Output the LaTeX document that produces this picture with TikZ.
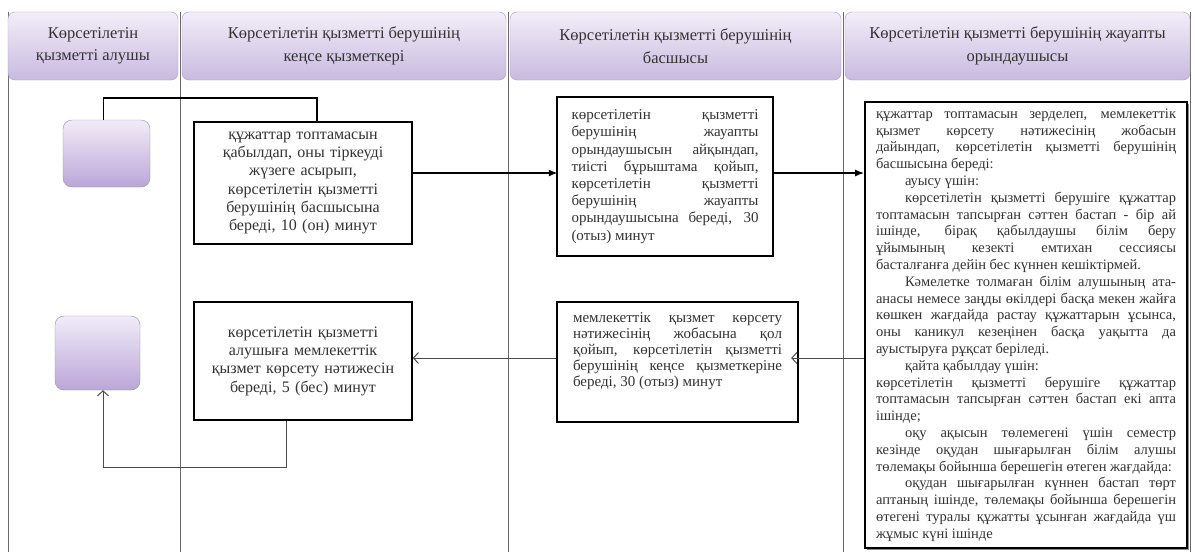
\documentclass[tikz,border=0pt]{standalone}
\usepackage{fontspec}
\setmainfont{Liberation Serif}
\usepackage{xcolor}
\usepackage{tikz}
\usetikzlibrary{arrows.meta,positioning,shadows}
\tikzset{>=Latex}
\definecolor{headtop}{HTML}{F2EEF8}
\definecolor{headbottom}{HTML}{C9BAE0}
\definecolor{headborder}{HTML}{A99FBD}
\definecolor{termtop}{HTML}{F1ECF8}
\definecolor{termbottom}{HTML}{BBA6D8}
\definecolor{termborder}{HTML}{978AB3}
\definecolor{laneline}{HTML}{6B6B6B}

\begin{document}
\begin{tikzpicture}[x=1pt, y=-1pt,
headbox/.style={rectangle, rounded corners=7pt, draw=headborder, top color=headtop, bottom color=headbottom, minimum height=68pt, inner sep=2pt, align=center, text=black!80, font=\fontsize{16.5}{22.5}\selectfont},
termbox/.style={rectangle, rounded corners=9pt, draw=termborder, top color=termtop, bottom color=termbottom},
workbox/.style={rectangle, draw=black, line width=1.6pt, fill=white, inner sep=0pt, text=black!80},
lane/.style={draw=laneline, line width=0.9pt},
passline/.style={->, line width=1.6pt, >={Latex[length=9pt,width=7pt]}},
retline/.style={draw=black!70, line width=1pt, -{Straight Barb[length=5pt,width=11pt]}},
]
\useasboundingbox[fill=white] (0,0) rectangle (1195,552);

%Lanes
\foreach \x in {8,180,508,843,1190}
  \draw[lane] (\x,12) -- (\x,552);

%Headers
\node[headbox, minimum width=170pt](RecipientHead) at (93,46) {Көрсетілетін\\қызметті алушы};
\node[headbox, minimum width=324pt](OfficeHead) at (344,46) {Көрсетілетін қызметті берушінің\\кеңсе қызметкері};
\node[headbox, minimum width=331pt](ChiefHead) at (675.5,46) {Көрсетілетін қызметті берушінің\\басшысы};
\node[headbox, minimum width=345pt](ExecutorHead) at (1017.5,46) {Көрсетілетін қызметті берушінің жауапты\\орындаушысы};

%Nodes
\node[termbox, minimum width=87pt, minimum height=67pt](Start) at (106.5,153.5) {};
\node[termbox, minimum width=85pt, minimum height=74pt](Finish) at (97.5,353) {};

\node[workbox, minimum width=218pt, minimum height=122pt, text width=200pt, align=center,
  font=\fontsize{16}{18.3}\selectfont](Accept) at (303,183)
  {құжаттар топтамасын\\қабылдап, оны тіркеуді\\жүзеге асырып,\\көрсетілетін қызметті\\берушінің басшысына\\береді, 10 (он) минут};

\node[workbox, minimum width=216pt, minimum height=159pt, text width=187pt, align=justify,
  font=\fontsize{15}{17.2}\selectfont](Resolve) at (665,176.5)
  {көрсетілетін қызметті\linebreak берушінің жауапты\linebreak орындаушысын айқындап,\linebreak тиісті бұрыштама қойып,\linebreak көрсетілетін қызметті\linebreak берушінің жауапты\linebreak орындаушысына береді, 30\linebreak (отыз) минут};

\node[workbox, minimum width=322pt, minimum height=446pt, text width=300pt, align=justify,
  drop shadow={shadow xshift=2pt, shadow yshift=-2pt, fill=black!45, opacity=1},
  font=\fontsize{14.5}{16.8}\selectfont](Execute) at (1026,325)
  {құжаттар топтамасын зерделеп, мемлекеттік\linebreak қызмет көрсету нәтижесінің жобасын\linebreak дайындап, көрсетілетін қызметті берушінің\linebreak басшысына береді:\par
  \hspace*{2em}ауысу үшін:\par
  \hspace*{2em}көрсетілетін қызметті берушіге құжаттар\linebreak топтамасын тапсырған сәттен бастап - бір ай\linebreak ішінде, бірақ қабылдаушы білім беру\linebreak ұйымының кезекті емтихан сессиясы\linebreak басталғанға дейін бес күннен кешіктірмей.\par
  \hspace*{2em}Кәмелетке толмаған білім алушының ата-\linebreak анасы немесе заңды өкілдері басқа мекен жайға\linebreak көшкен жағдайда растау құжаттарын ұсынса,\linebreak оны каникул кезеңінен басқа уақытта да\linebreak ауыстыруға рұқсат беріледі.\par
  \hspace*{2em}қайта қабылдау үшін:\par
  көрсетілетін қызметті берушіге құжаттар\linebreak топтамасын тапсырған сәттен бастап екі апта\linebreak ішінде;\par
  \hspace*{2em}оқу ақысын төлемегені үшін семестр\linebreak кезінде оқудан шығарылған білім алушы\linebreak төлемақы бойынша берешегін өтеген жағдайда:\par
  \hspace*{2em}оқудан шығарылған күннен бастап төрт\linebreak аптаның ішінде, төлемақы бойынша берешегін\linebreak өтегені туралы құжатты ұсынған жағдайда үш\linebreak жұмыс күні ішінде};

\node[workbox, minimum width=241pt, minimum height=120pt, text width=209pt, align=justify,
  font=\fontsize{15}{16}\selectfont](Sign) at (677.5,362)
  {мемлекеттік қызмет көрсету\linebreak нәтижесінің жобасына қол\linebreak қойып, көрсетілетін қызметті\linebreak берушінің кеңсе қызметкеріне\linebreak береді, 30 (отыз) минут\par\vspace*{22pt}};

\node[workbox, minimum width=218pt, minimum height=118pt, text width=200pt, align=center,
  font=\fontsize{16}{18.3}\selectfont](Issue) at (303,361)
  {көрсетілетін қызметті\\алушыға мемлекеттік\\қызмет көрсету нәтижесін\\береді, 5 (бес) минут};

%Lines
\draw[line width=1.6pt] ([xshift=-3pt]Start.north) |- (317,98) -- ([xshift=14pt]Accept.north);
\draw[passline] (Accept.east |- Resolve.west) ++(0,-3.5) -- ++(145,0);
\draw[passline] ([yshift=3.5pt]Resolve.east) -- ([yshift=3.5pt]Resolve.east -| Execute.west);
\draw[retline] (Execute.west |- Sign.east) ++(0,-4) -- ++(-73,0);
\draw[retline] ([yshift=4pt]Sign.west) -- ([yshift=4pt]Sign.west -| Issue.east);
\draw[retline] ([xshift=-17pt]Issue.south) -- ++(0,47) -| ([xshift=5.5pt]Finish.south);
\end{tikzpicture}
\end{document}
